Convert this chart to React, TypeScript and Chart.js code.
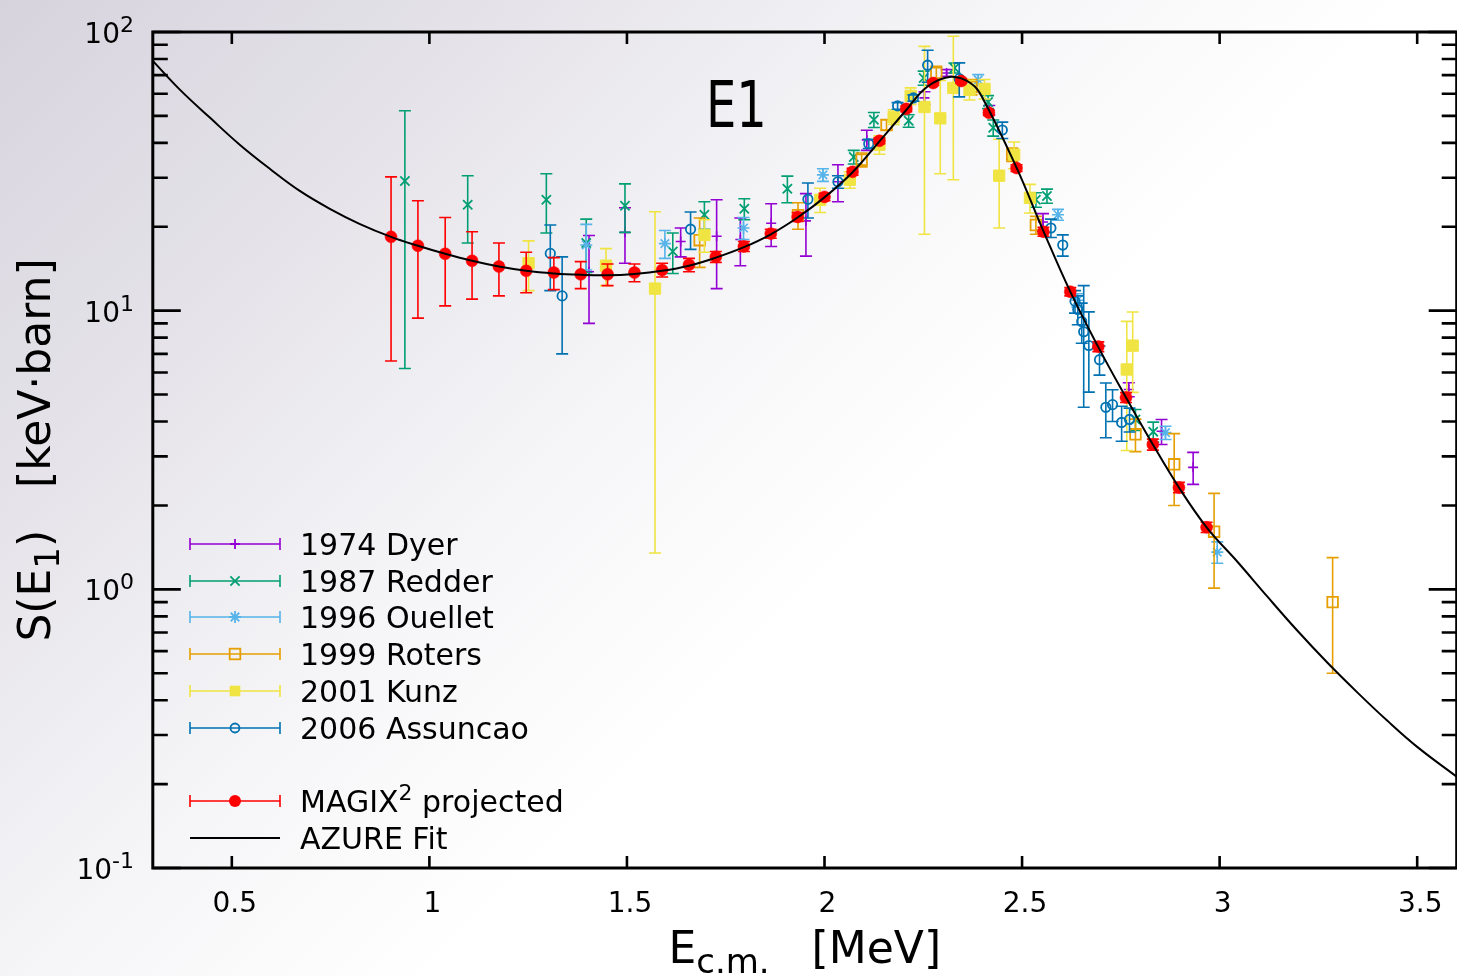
import React, { useEffect, useRef } from 'react';
import { Chart, registerables } from 'chart.js';

Chart.register(...registerables);

const CANVAS_W = 1466;
const CANVAS_H = 976;
const AREA_LEFT = 152.8;
const AREA_TOP = 32;
const AREA_RIGHT = 1459.6;
const AREA_BOTTOM = 868;

const X_MIN = 0.3;
const X_MAX = 3.6;
const Y_MIN = 0.1;
const Y_MAX = 100;

const xTickValues = [0.5, 1, 1.5, 2, 2.5, 3, 3.5];
const xTickLabels = ['0.5', '1', '1.5', '2', '2.5', '3', '3.5'];
const yMajorValues = [0.1, 1, 10, 100];
const yMajorExponents = ['-1', '0', '1', '2'];
const yMinorMultipliers = [2, 3, 4, 5, 6, 7, 8, 9];

const FONT = "'DejaVu Sans', 'Noto Sans', sans-serif";

const C_DYER = '#9400d3';
const C_REDDER = '#009e73';
const C_OUELLET = '#56b4e9';
const C_ROTERS = '#e69f00';
const C_KUNZ = '#f0e442';
const C_ASSUNCAO = '#0072b2';
const C_MAGIX = '#ff0000';
const C_FIT = '#000000';

// 1974 Dyer
const dyerX = [1.404, 1.495, 1.636, 1.727, 1.787, 1.865, 1.953, 2.034, 2.107, 2.253, 2.309, 2.417, 2.553, 2.77, 2.853, 2.933];
const dyerY = [13.8, 19.1, 17.7, 18.5, 18.0, 20.6, 21.0, 29.0, 41.0, 58.0, 71.3, 52.5, 20.8, 5.21, 3.69, 2.74];
const dyerErr = [4.8, 4.3, 2.1, 6.5, 3.5, 3.6, 5.3, 4.4, 3.4, 3.0, 2.0, 2.0, 1.5, 0.3, 0.38, 0.36];

// 1987 Redder
const redderX = [0.938, 1.097, 1.296, 1.397, 1.495, 1.616, 1.696, 1.797, 1.906, 2.074, 2.125, 2.213, 2.251, 2.329, 2.414, 2.427, 2.535, 2.563, 2.787, 2.832];
const redderY = [29.2, 24.0, 25.0, 17.5, 23.8, 16.3, 22.1, 23.2, 27.4, 35.6, 48.4, 48.0, 68.4, 74.3, 56.1, 45.3, 25.0, 25.8, 4.07, 3.68];
const redderErr = [23, 6.5, 6.0, 3.8, 4.7, 2.7, 2.5, 2.0, 3.0, 2.0, 3.0, 2.5, 4.0, 3.0, 3.0, 3.0, 1.5, 1.5, 0.35, 0.3];

// 1996 Ouellet
const ouelletX = [1.397, 1.596, 1.795, 1.996, 2.389, 2.591, 2.64, 2.863, 2.994];
const ouelletY = [17.2, 17.4, 19.8, 30.7, 67.3, 22.1, 10.9, 3.65, 1.36];
const ouelletErr = [3.2, 2.0, 1.8, 1.6, 3.0, 1.0, 0.6, 0.2, 0.12];

// 1999 Roters
const rotersX = [1.684, 1.933, 2.094, 2.157, 2.283, 2.372, 2.475, 2.535, 2.787, 2.885, 2.986, 3.286];
const rotersY = [17.9, 22.0, 34.8, 46.4, 71.3, 63.5, 36.3, 20.3, 3.6, 2.81, 1.61, 0.9];
const rotersErr = [3.6, 2.4, 2.0, 2.0, 4.0, 4.0, 2.0, 1.5, 0.48, 0.81, 0.6, 0.4];

// 2001 Kunz
const kunzX = [1.251, 1.447, 1.571, 1.696, 1.989, 2.064, 2.139, 2.175, 2.218, 2.253, 2.293, 2.326, 2.367, 2.405, 2.442, 2.48, 2.52, 2.765, 2.78];
const kunzY = [14.8, 14.5, 12.0, 18.7, 25.0, 29.5, 39.4, 49.6, 59.0, 53.8, 49.0, 63.0, 62.0, 62.5, 30.5, 36.3, 25.4, 6.15, 7.49];
const kunzErr = [3.0, 2.2, 10.65, 2.5, 2.5, 2.0, 3.0, 3.0, 4.0, 35, 18, 33.5, 5.0, 5.0, 10.7, 4.0, 3.0, 3.0, 2.4];

// 2006 Assuncao
const assuncaoX = [1.306, 1.336, 1.661, 1.958, 2.034, 2.112, 2.185, 2.225, 2.261, 2.341, 2.45, 2.573, 2.603, 2.634, 2.641, 2.651, 2.656, 2.669, 2.696, 2.712, 2.729, 2.752, 2.772];
const assuncaoY = [16.05, 11.3, 19.6, 25.1, 29.0, 39.7, 54.3, 58.0, 76.0, 68.0, 44.5, 19.8, 17.2, 10.8, 10.1, 9.14, 8.4, 7.5, 6.67, 4.5, 4.6, 3.97, 4.07];
const assuncaoErr = [4.25, 4.3, 3.0, 3.6, 1.5, 1.5, 1.5, 1.5, 10, 9.5, 3.0, 1.5, 1.5, 1.0, 1.2, 1.5, 3.9, 2.4, 0.8, 1.0, 0.6, 0.57, 0.4];

// MAGIX^2 projected
const magixX = [0.903, 0.971, 1.04, 1.108, 1.176, 1.245, 1.315, 1.383, 1.451, 1.519, 1.589, 1.657, 1.725, 1.796, 1.864, 1.932, 2.0, 2.071, 2.139, 2.207, 2.275, 2.346, 2.416, 2.486, 2.554, 2.622, 2.693, 2.763, 2.831, 2.897, 2.967];
const magixY = [18.4, 17.1, 16.0, 15.1, 14.4, 13.9, 13.7, 13.5, 13.5, 13.7, 14.0, 14.6, 15.6, 17.0, 18.9, 21.7, 25.6, 31.5, 40.7, 53.0, 65.6, 66.7, 51.3, 32.5, 19.2, 11.7, 7.43, 4.88, 3.31, 2.32, 1.67];
const magixErr = [11.8, 7.7, 5.6, 4.1, 3.1, 2.3, 1.8, 1.5, 1.2, 1.0, 0.8, 0.8, 0.7, 0.7, 0.7, 0.8, 0.8, 0.9, 1.0, 1.2, 1.3, 1.3, 1.1, 0.9, 0.7, 0.4, 0.3, 0.2, 0.15, 0.1, 0.07];

// AZURE fit curve
const fitX = [0.3, 0.369, 0.445, 0.52, 0.596, 0.672, 0.748, 0.823, 0.903, 0.971, 1.04, 1.108, 1.176, 1.245, 1.315, 1.383, 1.451, 1.519, 1.589, 1.657, 1.725, 1.796, 1.864, 1.932, 2.0, 2.071, 2.139, 2.207, 2.26, 2.32, 2.37, 2.4, 2.486, 2.554, 2.622, 2.693, 2.763, 2.831, 2.897, 2.967, 3.045, 3.121, 3.197, 3.273, 3.349, 3.424, 3.5, 3.6];
const fitY = [78.8, 62.0, 49.2, 39.4, 32.3, 26.9, 23.2, 20.5, 18.4, 17.1, 16.0, 15.1, 14.4, 13.9, 13.6, 13.45, 13.4, 13.55, 13.9, 14.5, 15.5, 16.9, 18.8, 21.6, 25.5, 31.4, 40.5, 52.5, 63.6, 69.1, 65.5, 58.0, 32.6, 19.3, 11.7, 7.4, 4.88, 3.31, 2.32, 1.67, 1.256, 0.941, 0.71, 0.545, 0.426, 0.338, 0.272, 0.2126];

type Marker = 'cross' | 'crossRot' | 'star' | 'rectOpen' | 'rect' | 'circleOpen' | 'circle' | 'none';

const legendLabels = ['1974 Dyer', '1987 Redder', '1996 Ouellet', '1999 Roters', '2001 Kunz', '2006 Assuncao', 'MAGIX', 'AZURE Fit'];
const legendRowY = [544, 581, 617, 654, 691, 728, 801, 838];
const legendColors = [C_DYER, C_REDDER, C_OUELLET, C_ROTERS, C_KUNZ, C_ASSUNCAO, C_MAGIX, C_FIT];
const legendMarkers: Marker[] = ['cross', 'crossRot', 'star', 'rectOpen', 'rect', 'circleOpen', 'circle', 'none'];

function zip(xs: number[], ys: number[]) {
  return xs.map((x, i) => ({ x, y: ys[i] }));
}

function drawMarker(ctx: CanvasRenderingContext2D, m: Marker, x: number, y: number, r: number, color: string, lw: number) {
  ctx.save();
  ctx.strokeStyle = color;
  ctx.fillStyle = color;
  ctx.lineWidth = lw;
  const d = r * Math.SQRT1_2;
  ctx.beginPath();
  if (m === 'cross' || m === 'star') {
    ctx.moveTo(x - r, y); ctx.lineTo(x + r, y);
    ctx.moveTo(x, y - r); ctx.lineTo(x, y + r);
  }
  if (m === 'crossRot' || m === 'star') {
    ctx.moveTo(x - d, y - d); ctx.lineTo(x + d, y + d);
    ctx.moveTo(x - d, y + d); ctx.lineTo(x + d, y - d);
  }
  if (m === 'cross' || m === 'star' || m === 'crossRot') ctx.stroke();
  if (m === 'rectOpen') ctx.strokeRect(x - d, y - d, 2 * d, 2 * d);
  if (m === 'rect') ctx.fillRect(x - d, y - d, 2 * d, 2 * d);
  if (m === 'circleOpen') { ctx.arc(x, y, r, 0, Math.PI * 2); ctx.stroke(); }
  if (m === 'circle') { ctx.arc(x, y, r, 0, Math.PI * 2); ctx.fill(); }
  ctx.restore();
}

type Part = { text: string; size: number; dy: number };

function drawRich(ctx: CanvasRenderingContext2D, parts: Part[], x: number, y: number, align: 'left' | 'center' | 'right') {
  let total = 0;
  const widths = parts.map((p) => {
    ctx.font = `${p.size}px ${FONT}`;
    const w = ctx.measureText(p.text).width;
    total += w;
    return w;
  });
  let cur = align === 'left' ? x : align === 'center' ? x - total / 2 : x - total;
  ctx.textAlign = 'left';
  ctx.textBaseline = 'alphabetic';
  parts.forEach((p, i) => {
    ctx.font = `${p.size}px ${FONT}`;
    ctx.fillText(p.text, cur, y + p.dy);
    cur += widths[i];
  });
}

const legendMarkerSize = [5, 6.5, 6, 7.5, 7.5, 4.5, 6, 0];

const decorPlugin = {
  id: 'gnuplotDecor',
  beforeDatasetDraw(chart: any, args: any) {
    const ds = chart.data.datasets[args.index];
    if (!ds.errors) return;
    const xs = chart.scales.x;
    const ys = chart.scales.y;
    const a = chart.chartArea;
    const ctx: CanvasRenderingContext2D = chart.ctx;
    ctx.save();
    ctx.beginPath();
    ctx.rect(a.left, a.top, a.right - a.left, a.bottom - a.top);
    ctx.clip();
    ctx.strokeStyle = ds.errColor;
    ctx.lineWidth = 1.6;
    ds.data.forEach((p: any, i: number) => {
      const e = ds.errors[i];
      const px = xs.getPixelForValue(p.x);
      const top = ys.getPixelForValue(p.y + e);
      const lo = p.y - e > 0 ? ys.getPixelForValue(p.y - e) : a.bottom + 10;
      ctx.beginPath();
      ctx.moveTo(px, top); ctx.lineTo(px, lo);
      ctx.moveTo(px - 6, top); ctx.lineTo(px + 6, top);
      ctx.moveTo(px - 6, lo); ctx.lineTo(px + 6, lo);
      ctx.stroke();
    });
    ctx.restore();
  },
  afterDraw(chart: any) {
    const ctx: CanvasRenderingContext2D = chart.ctx;
    const xs = chart.scales.x;
    const ys = chart.scales.y;
    const a = chart.chartArea;
    ctx.save();
    ctx.strokeStyle = '#000';
    ctx.fillStyle = '#000';
    ctx.lineCap = 'butt';
    // ticks
    ctx.lineWidth = 2.6;
    ctx.beginPath();
    xTickValues.forEach((v) => {
      const px = xs.getPixelForValue(v);
      ctx.moveTo(px, a.bottom); ctx.lineTo(px, a.bottom - 12);
      ctx.moveTo(px, a.top); ctx.lineTo(px, a.top + 12);
    });
    yMajorValues.forEach((v, i) => {
      const py = ys.getPixelForValue(v);
      ctx.moveTo(a.left, py); ctx.lineTo(a.left + 28, py);
      ctx.moveTo(a.right, py); ctx.lineTo(a.right - 28, py);
      if (i < yMajorValues.length - 1) {
        yMinorMultipliers.forEach((m) => {
          const pm = ys.getPixelForValue(v * m);
          ctx.moveTo(a.left, pm); ctx.lineTo(a.left + 15, pm);
          ctx.moveTo(a.right, pm); ctx.lineTo(a.right - 15, pm);
        });
      }
    });
    ctx.stroke();
    // frame
    ctx.lineWidth = 3;
    ctx.strokeRect(a.left, a.top, a.right - a.left, a.bottom - a.top);

    // x tick labels
    ctx.font = `28px ${FONT}`;
    ctx.textAlign = 'center';
    ctx.textBaseline = 'alphabetic';
    xTickValues.forEach((v, i) => {
      ctx.fillText(xTickLabels[i], xs.getPixelForValue(v) + 3, 912);
    });
    // y tick labels
    yMajorValues.forEach((v, i) => {
      const py = ys.getPixelForValue(v);
      drawRich(ctx, [
        { text: '10', size: 28, dy: 0 },
        { text: yMajorExponents[i], size: 22, dy: -11 },
      ], 134, py + 11, 'right');
    });

    // axis titles
    drawRich(ctx, [
      { text: 'E', size: 44, dy: 0 },
      { text: 'c.m.', size: 34, dy: 10 },
      { text: '   [MeV]', size: 44, dy: 0 },
    ], (a.left + a.right) / 2, 963, 'center');
    ctx.save();
    ctx.translate(50, (a.top + a.bottom) / 2);
    ctx.rotate(-Math.PI / 2);
    drawRich(ctx, [
      { text: 'S(E', size: 44, dy: 0 },
      { text: '1', size: 34, dy: 9 },
      { text: ')   [keV·barn]', size: 44, dy: 0 },
    ], 0, 0, 'center');
    ctx.restore();

    // E1 label
    ctx.save();
    ctx.translate(706, 127);
    ctx.scale(0.75, 1);
    ctx.font = `64px ${FONT}`;
    ctx.textAlign = 'left';
    ctx.fillText('E1', 0, 0);
    ctx.restore();

    // legend
    legendLabels.forEach((lab, i) => {
      const y = legendRowY[i];
      const col = legendColors[i];
      ctx.save();
      ctx.strokeStyle = col;
      ctx.lineWidth = i === 7 ? 2 : 1.6;
      ctx.beginPath();
      ctx.moveTo(190, y); ctx.lineTo(280, y);
      if (i !== 7) {
        ctx.moveTo(190, y - 6); ctx.lineTo(190, y + 6);
        ctx.moveTo(280, y - 6); ctx.lineTo(280, y + 6);
      }
      ctx.stroke();
      ctx.restore();
      if (legendMarkers[i] !== 'none') {
        drawMarker(ctx, legendMarkers[i], 235, y, legendMarkerSize[i], col, 1.8);
      }
      ctx.fillStyle = '#000';
      if (i === 6) {
        drawRich(ctx, [
          { text: 'MAGIX', size: 30, dy: 0 },
          { text: '2', size: 22, dy: -12 },
          { text: ' projected', size: 30, dy: 0 },
        ], 300, y + 11, 'left');
      } else {
        drawRich(ctx, [{ text: lab, size: 30, dy: 0 }], 300, y + 11, 'left');
      }
    });
    ctx.restore();
  },
};

export default function App() {
  const ref = useRef<HTMLCanvasElement | null>(null);

  useEffect(() => {
    if (!ref.current) return;
    const mk = (label: string, xs: number[], ys: number[], errs: number[], color: string, style: string, radius: number, fill: string, bw: number, order: number) => ({
      label,
      data: zip(xs, ys),
      errors: errs,
      errColor: color,
      pointStyle: style,
      pointRadius: radius,
      pointBorderColor: color,
      pointBackgroundColor: fill,
      pointBorderWidth: bw,
      showLine: false,
      order,
    });
    const chart = new Chart(ref.current, {
      type: 'scatter',
      data: {
        datasets: [
          mk('1974 Dyer', dyerX, dyerY, dyerErr, C_DYER, 'cross', 5, C_DYER, 1.6, 8),
          mk('1987 Redder', redderX, redderY, redderErr, C_REDDER, 'crossRot', 6.5, C_REDDER, 1.8, 7),
          mk('1996 Ouellet', ouelletX, ouelletY, ouelletErr, C_OUELLET, 'star', 6, C_OUELLET, 1.6, 6),
          mk('1999 Roters', rotersX, rotersY, rotersErr, C_ROTERS, 'rect', 7.5, 'rgba(0,0,0,0)', 1.8, 5),
          mk('2001 Kunz', kunzX, kunzY, kunzErr, C_KUNZ, 'rect', 8, C_KUNZ, 1, 4),
          mk('2006 Assuncao', assuncaoX, assuncaoY, assuncaoErr, C_ASSUNCAO, 'circle', 4.7, 'rgba(0,0,0,0)', 1.8, 3),
          mk('MAGIX2 projected', magixX, magixY, magixErr, C_MAGIX, 'circle', 6, C_MAGIX, 0.5, 2),
          {
            label: 'AZURE Fit',
            data: zip(fitX, fitY),
            showLine: true,
            borderColor: C_FIT,
            borderWidth: 2,
            pointRadius: 0,
            tension: 0.4,
            fill: false,
            order: 1,
          } as any,
        ] as any,
      },
      options: {
        animation: false,
        responsive: false,
        devicePixelRatio: 1,
        events: [],
        layout: { padding: { left: 0, top: AREA_TOP, right: CANVAS_W - AREA_RIGHT, bottom: 0 } },
        plugins: { legend: { display: false }, tooltip: { enabled: false } },
        scales: {
          x: {
            type: 'linear', min: X_MIN, max: X_MAX,
            grid: { display: false }, border: { display: false }, ticks: { display: false },
            afterFit: (s: any) => { s.height = CANVAS_H - AREA_BOTTOM; },
          },
          y: {
            type: 'logarithmic', min: Y_MIN, max: Y_MAX,
            grid: { display: false }, border: { display: false }, ticks: { display: false },
            afterFit: (s: any) => { s.width = AREA_LEFT; },
          },
        },
      } as any,
      plugins: [decorPlugin as any],
    });
    return () => chart.destroy();
  }, []);

  return (
    <div
      style={{
        position: 'fixed', left: 0, top: 0, width: 1457, height: 976, overflow: 'hidden',
        background: 'linear-gradient(135deg, #d6d3dd 0%, #e6e4ea 22%, #f6f6f8 42%, #ffffff 58%)',
      }}
    >
      <canvas ref={ref} width={CANVAS_W} height={CANVAS_H} style={{ display: 'block', width: CANVAS_W, height: CANVAS_H }} />
    </div>
  );
}
